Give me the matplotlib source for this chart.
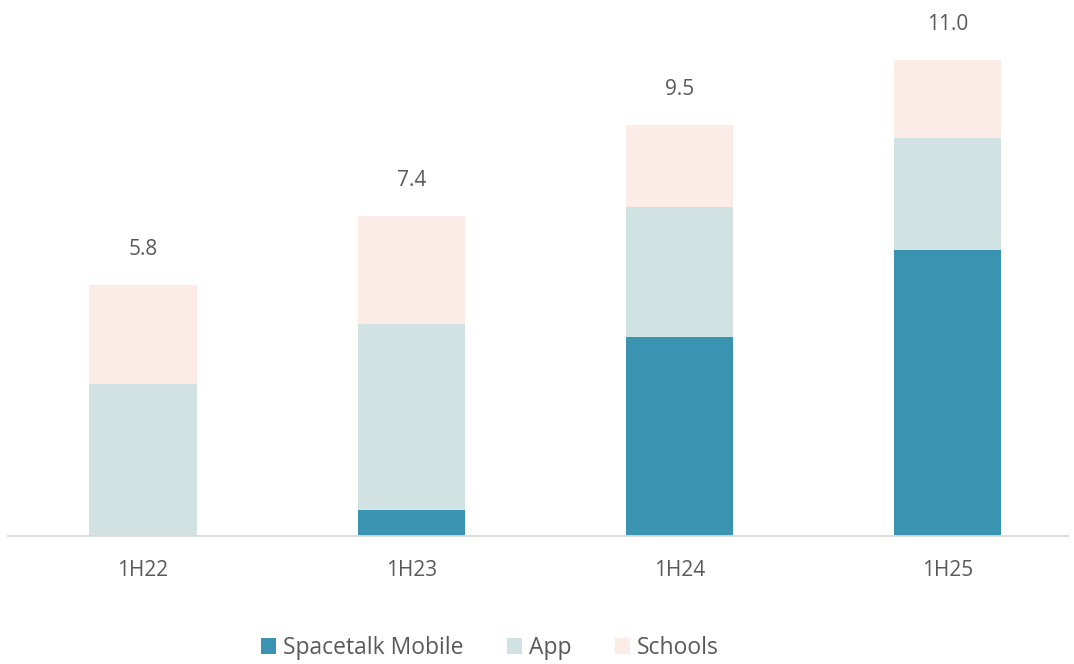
import matplotlib.pyplot as plt
import numpy as np

periodos = ['1H22', '1H23', '1H24', '1H25']
mobile = [0.0, 0.6, 4.6, 6.6]
app = [3.5, 4.3, 3.0, 2.6]
schools = [2.3, 2.5, 1.9, 1.8]
totais = [5.8, 7.4, 9.5, 11.0]

cor_mobile = '#3A93B0'
cor_app = '#D0E2E2'
cor_schools = '#FBECE8'
cor_texto = '#595959'

plt.rcParams['font.family'] = ['Open Sans', 'DejaVu Sans']

fig = plt.figure(figsize=(10.74, 6.64), dpi=100)
ax = fig.add_axes([8 / 1074, 128 / 664, 1060 / 1074, 536 / 664])

x = np.arange(len(periodos))
base_app = np.array(mobile)
base_schools = base_app + np.array(app)

ax.bar(x, mobile, width=0.4, color=cor_mobile, label='Spacetalk Mobile')
ax.bar(x, app, width=0.4, bottom=base_app, color=cor_app, label='App')
ax.bar(x, schools, width=0.4, bottom=base_schools, color=cor_schools, label='Schools')

# rotulos dos totais por cima das barras
for xi, t in zip(x, totais):
    ax.annotate(f'{t:.1f}', (xi, t), xytext=(0, 18), textcoords='offset points',
                ha='center', va='bottom', fontsize=15, color=cor_texto)

ax.set_xlim(-0.504, 3.45)
ax.set_ylim(0, 12.38)
ax.set_xticks(x)
ax.set_xticklabels(periodos, fontsize=15, color=cor_texto)
ax.tick_params(axis='x', length=0, pad=17)
ax.set_yticks([])
for lado in ['top', 'right', 'left']:
    ax.spines[lado].set_visible(False)
ax.spines['bottom'].set_color('#D9D9D9')
ax.spines['bottom'].set_linewidth(1.3)

leg = fig.legend(loc='center', bbox_to_anchor=(490 / 1074, 1 - 648 / 664), ncol=3,
                 frameon=False, fontsize=16.5, handlelength=0.65, handleheight=0.65,
                 handletextpad=0.3, columnspacing=1.9)
for t in leg.get_texts():
    t.set_color(cor_texto)

fig.savefig('out.png', dpi=100)
